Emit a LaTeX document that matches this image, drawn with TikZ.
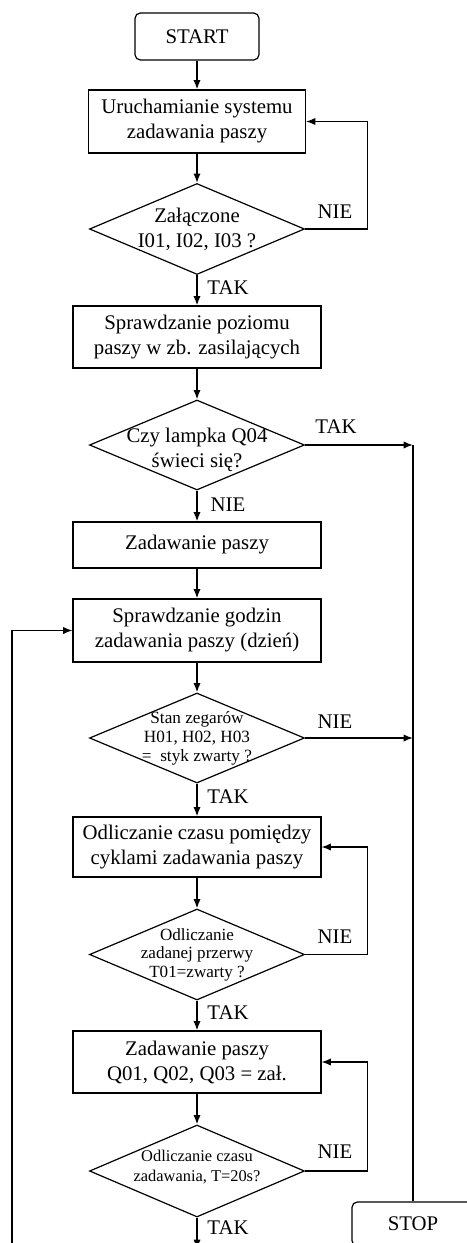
\documentclass[tikz,border=0pt]{standalone}
\usepackage{fontspec}
\setmainfont{Liberation Serif}
\usetikzlibrary{shapes.geometric,arrows.meta}

\tikzset{
  proc/.style={draw,rectangle,line width=0.9pt,minimum width=186pt,minimum height=46.5pt,inner sep=0pt,align=center,font=\fontsize{15.6}{18.75}\selectfont},
  term/.style={draw,rectangle,rounded corners=4pt,line width=0.9pt,inner sep=0pt,font=\fontsize{15.6}{18.75}\selectfont},
  decis/.style={draw,diamond,line width=0.9pt,minimum width=161.25pt,minimum height=68.25pt,inner sep=0pt},
  dtxt/.style={align=center,inner sep=0pt},
  lbl/.style={inner sep=0pt,font=\fontsize{15.6}{18.75}\selectfont},
  flow/.style={-{Latex[length=7pt,width=5.5pt]},line width=1.2pt},
  back/.style={-{Latex[length=7pt,width=5.5pt]},line width=0.9pt}
}

\begin{document}
\begin{tikzpicture}[x=0.75pt,y=0.75pt,yscale=-1,xscale=1]
\useasboundingbox (0,0) rectangle (467,1243);
\clip (0,0) rectangle (467,1243);

% Start
\node[term,minimum width=93pt,minimum height=35.25pt] (start) at (197,36.5) {START};
% Process / decision nodes
\node[proc,minimum width=162.75pt,minimum height=47.25pt] (uruch) at (197,121.5) {Uruchamianie systemu\\zadawania paszy};
\node[decis,label={[dtxt,font=\fontsize{15.6}{18.75}\selectfont]center:{Załączone\\I01, I02, I03 ?}}] (zalacz) at (197,229) {};
\node[proc] (poziom) at (197,337) {Sprawdzanie poziomu\\paszy w zb. zasilających};
\node[decis,minimum height=67.5pt,label={[dtxt,yshift=-3.5pt,font=\fontsize{15.6}{18.75}\selectfont]center:{Czy lampka Q04\\świeci się?}}] (lampka) at (197,445) {};
\node[proc,minimum height=34.5pt] (zadaw) at (197,545) {Zadawanie paszy};
\node[proc,minimum height=47.25pt] (godz) at (197,630.5) {Sprawdzanie godzin\\zadawania paszy (dzień)};
\node[decis,minimum height=67.5pt,label={[dtxt,font=\fontsize{12.9}{14.25}\selectfont]center:{Stan zegarów\\H01, H02, H03\\=\ \ styk zwarty ?}}] (zegary) at (197,738) {};
\node[proc,minimum height=45pt] (odlicz) at (197,847) {Odliczanie czasu pomiędzy\\cyklami zadawania paszy};
\node[decis,label={[dtxt,font=\fontsize{12.8}{13.9}\selectfont]center:{Odliczanie\\zadanej przerwy\\T01=zwarty ?}}] (przerwa) at (197,954.5) {};
\node[proc] (zadq) at (197,1062) {Zadawanie paszy\\Q01, Q02, Q03 = zał.};
\node[decis,minimum height=69pt,label={[dtxt,yshift=3pt,font=\fontsize{12.3}{15}\selectfont]center:{Odliczanie czasu\\zadawania, T=20s?}}] (czas) at (197,1171) {};
% Stop
\node[term,minimum width=91.5pt,minimum height=33pt] (stop) at (413,1224) {STOP};

% Free ends
\coordinate (j1) at (413,445);
\coordinate (j2) at (413,738);
\coordinate (lewy) at (12,1260);
\coordinate (dol) at (197,1249);

% Main flow
\draw[flow] (start) -- (uruch);
\draw[flow] (uruch) -- (zalacz);
\draw[flow] (zalacz) -- (poziom);
\draw[flow] (poziom) -- (lampka);
\draw[flow] (lampka) -- (zadaw);
\draw[flow] (zadaw) -- (godz);
\draw[flow] (godz) -- (zegary);
\draw[flow] (zegary) -- (odlicz);
\draw[flow] (odlicz) -- (przerwa);
\draw[flow] (przerwa) -- (zadq);
\draw[flow] (zadq) -- (czas);
\draw[flow] (czas) -- (dol);

% Loops back
\draw[back] (zalacz.east) -- ++(62.5,0) |- (uruch.east);
\draw[back] (przerwa.east) -- ++(62.5,0) |- (odlicz.east);
\draw[back] (czas.east) -- ++(62.5,0) |- (zadq.east);
\draw[back] (lewy) |- (godz.west);

% To STOP
\draw[flow] (lampka.east) -- (j1);
\draw[flow] (zegary.east) -- (j2);
\draw[line width=1.2pt] (j1) -- (stop.north);

% Labels
\node[lbl] (nie1) at (335,212) {NIE};
\node[lbl] (tak1) at (228,288) {TAK};
\node[lbl] (tak2) at (336,427) {TAK};
\node[lbl] (nie2) at (228,505) {NIE};
\node[lbl] (nie3) at (335,722) {NIE};
\node[lbl] (tak3) at (228,797) {TAK};
\node[lbl] (nie4) at (335,937) {NIE};
\node[lbl] (tak4) at (228,1013) {TAK};
\node[lbl] (nie5) at (335,1152) {NIE};
\node[lbl] (tak5) at (228,1228) {TAK};

\end{tikzpicture}
\end{document}
